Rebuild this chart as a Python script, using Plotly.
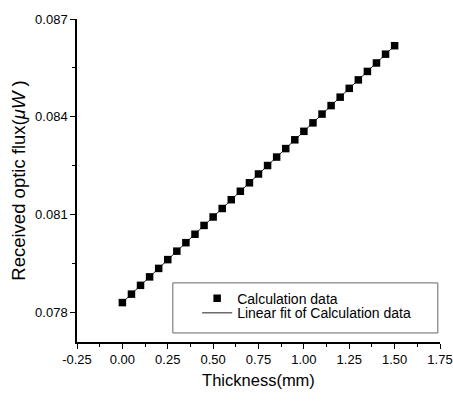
import numpy as np
import plotly.graph_objects as go

thickness = [0.00, 0.05, 0.10, 0.15, 0.20, 0.25, 0.30, 0.35, 0.40, 0.45,
             0.50, 0.55, 0.60, 0.65, 0.70, 0.75, 0.80, 0.85, 0.90, 0.95,
             1.00, 1.05, 1.10, 1.15, 1.20, 1.25, 1.30, 1.35, 1.40, 1.45, 1.50]
flux = [0.07829, 0.07855, 0.07882, 0.07908, 0.07934, 0.07961, 0.07987, 0.08013,
        0.08039, 0.08066, 0.08092, 0.08118, 0.08145, 0.08171, 0.08197, 0.08224,
        0.08250, 0.08276, 0.08302, 0.08329, 0.08355, 0.08381, 0.08408, 0.08434,
        0.08460, 0.08487, 0.08513, 0.08539, 0.08565, 0.08592, 0.08618]

x_ticks = [-0.25, 0.00, 0.25, 0.50, 0.75, 1.00, 1.25, 1.50, 1.75]
x_ticklabels = ["-0.25", "0.00", "0.25", "0.50", "0.75", "1.00", "1.25", "1.50", "1.75"]
y_ticks = [0.078, 0.081, 0.084, 0.087]
y_ticklabels = ["0.078", "0.081", "0.084", "0.087"]

slope, intercept = np.polyfit(thickness, flux, 1)
fit_y = [slope * t + intercept for t in thickness]

font = "Liberation Sans, Arial, sans-serif"

fig = go.Figure()
fig.add_trace(go.Scatter(
    x=thickness, y=fit_y, mode="lines",
    line=dict(color="#222222", width=1),
    name="Linear fit of Calculation data", legend="legend2"))
fig.add_trace(go.Scatter(
    x=thickness, y=flux, mode="markers",
    marker=dict(symbol="square", size=7.5, color="black"),
    name="Calculation data", legend="legend"))

# legend frame
fig.add_shape(type="rect", xref="paper", yref="paper",
              x0=0.264, x1=0.994, y0=0.028, y1=0.183,
              line=dict(color="#666666", width=1), fillcolor="white", layer="below")

leg_common = dict(xanchor="left", yanchor="middle", bgcolor="rgba(0,0,0,0)",
                  borderwidth=0, font=dict(size=14, family=font, color="black"))

fig.update_layout(
    width=453, height=401,
    margin=dict(l=77, r=13, t=19, b=59),
    paper_bgcolor="white", plot_bgcolor="white",
    font=dict(family=font, color="black", size=13),
    showlegend=True,
    legend=dict(x=0.331, y=0.134, **leg_common),
    legend2=dict(x=0.331, y=0.089, **leg_common),
    xaxis=dict(
        range=[-0.25, 1.75], tickvals=x_ticks, ticktext=x_ticklabels,
        showline=True, linecolor="black", linewidth=1.5,
        ticks="outside", ticklen=5, tickwidth=1, tickcolor="black",
        minor=dict(dtick=0.125, ticks="outside", ticklen=3, tickcolor="black"),
        showgrid=False, zeroline=False, automargin=False,
        ticklabeloverflow="allow",
        title=dict(text="Thickness(mm)", font=dict(size=16.5), standoff=8),
        tickfont=dict(size=13),
    ),
    yaxis=dict(
        range=[0.07708, 0.087], tickvals=y_ticks, ticktext=y_ticklabels,
        showline=True, linecolor="black", linewidth=1.5,
        ticks="outside", ticklen=5, tickwidth=1, tickcolor="black",
        minor=dict(tickvals=[0.0795, 0.0825, 0.0855], ticks="outside", ticklen=3, tickcolor="black"),
        showgrid=False, zeroline=False, automargin=False,
        title=dict(text="Received optic flux(<i>μW</i> )", font=dict(size=18.5), standoff=5),
        tickfont=dict(size=13),
    ),
)

fig.write_html(
    "out.html",
    config={"displayModeBar": False},
    post_script="document.body.style.margin='0';document.body.style.overflow='hidden';",
)
